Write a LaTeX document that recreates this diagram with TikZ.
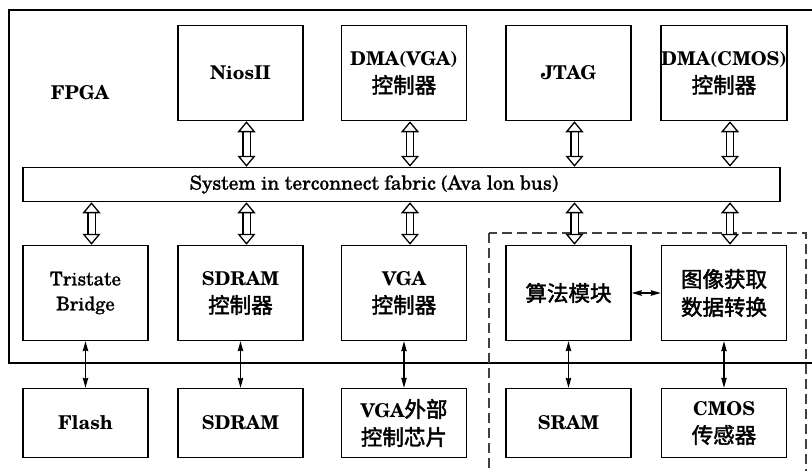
\documentclass[tikz,border=0pt]{standalone}
\usepackage{fontspec}
\setmainfont{texgyreschola}[Extension=.otf, UprightFont=*-regular, BoldFont=*-bold, ItalicFont=*-italic, BoldItalicFont=*-bolditalic]
\newfontfamily\medium{texgyreschola}[Extension=.otf, UprightFont=*-regular, FakeBold=0.8]
\newfontfamily\cjk{Noto Sans CJK SC}[FakeBold=2]
\usetikzlibrary{arrows.meta}
\usetikzlibrary{positioning}

\newcommand{\zh}[1]{{\cjk\mdseries\fontsize{21.5}{28}\selectfont #1}}

\tikzstyle{block} = [rectangle, text centered, align=center, draw=black, line width=1.5pt, minimum width=125pt, minimum height=95pt, inner sep=0pt, font=\fontsize{19}{28}\selectfont\bfseries]
\tikzstyle{chip} = [block, minimum height=69pt]
\tikzstyle{bridge} = [block, font=\fontsize{19}{25}\selectfont\medium]
\tikzstyle{busbar} = [rectangle, draw=black, line width=1.5pt, minimum width=757pt, minimum height=34pt, inner sep=0pt]
\tikzstyle{bus_link} = [double, double distance=6pt, line width=1.3pt, <->, >={Triangle[length=11pt, width=18pt, line width=1.3pt, fill=white]}]
\tikzstyle{link} = [line width=1.3pt, <->, >={Stealth[length=10pt, width=5.5pt, inset=1pt]}]
\tikzstyle{group} = [line width=1.2pt, black!75, dash pattern=on 10pt off 5pt]

\begin{document}
\begin{tikzpicture}[x=1pt, y=-1pt]

    \clip (0,0) rectangle (812,471);

    % FPGA boundary, runs off the right edge
    \draw [line width=1.5pt] (9,10) rectangle (830,363);
    \node (fpga) at (80,93) [font=\fontsize{19}{22}\selectfont\bfseries] {FPGA};

    % custom logic area
    \draw [group] (489,233) rectangle (806,490);

    \node (niosii) at (240.5,73) [block] {NiosII};
    \node (dmavga) at (404,73) [block] {DMA(VGA)\\\zh{控制器}};
    \node (jtag) at (568.5,73) [block] {JTAG};
    \node (dmacmos) at (724,73) [block] {DMA(CMOS)\\\zh{控制器}};

    \node (bus) at (401.5,184.5) [busbar] {};
    \node (bustext) at (374,184.5) [font=\fontsize{19.5}{22}\selectfont\medium] {System in terconnect fabric (Ava lon bus)};

    \node (tristate) at (85.5,293) [bridge] {Tristate\\Bridge};
    \node (sdramctrl) at (240.5,293) [block] {SDRAM\\\zh{控制器}};
    \node (vgactrl) at (404,293) [block] {VGA\\\zh{控制器}};
    \node (algo) at (568.5,293) [block] {\zh{算法模块}};
    \node (capture) at (724,293) [block] {\zh{图像获取}\\\zh{数据转换}};

    \node (flash) at (85.5,423) [chip] {Flash};
    \node (sdram) at (240.5,423) [chip] {SDRAM};
    \node (vgachip) at (404,423) [chip] {VGA\zh{外部}\\\zh{控制芯片}};
    \node (sram) at (568.5,423) [chip] {SRAM};
    \node (cmos) at (724,423) [chip] {CMOS\\\zh{传感器}};

    \draw [bus_link] ([xshift=6pt]niosii.south) -- ([xshift=6pt]bus.north -| niosii.south);
    \draw [bus_link] ([xshift=6pt]dmavga.south) -- ([xshift=6pt]bus.north -| dmavga.south);
    \draw [bus_link] ([xshift=6pt]jtag.south) -- ([xshift=6pt]bus.north -| jtag.south);
    \draw [bus_link] ([xshift=6pt]dmacmos.south) -- ([xshift=6pt]bus.north -| dmacmos.south);

    \draw [bus_link] ([xshift=6pt]bus.south -| tristate.north) -- ([xshift=6pt]tristate.north);
    \draw [bus_link] ([xshift=6pt]bus.south -| sdramctrl.north) -- ([xshift=6pt]sdramctrl.north);
    \draw [bus_link] ([xshift=6pt]bus.south -| vgactrl.north) -- ([xshift=6pt]vgactrl.north);
    \draw [bus_link] ([xshift=6pt]bus.south -| algo.north) -- ([xshift=6pt]algo.north);
    \draw [bus_link] ([xshift=6pt]bus.south -| capture.north) -- ([xshift=6pt]capture.north);

    \draw [link] (tristate) -- (flash);
    \draw [link] (sdramctrl) -- (sdram);
    \draw [link] (vgactrl) -- (vgachip);
    \draw [link] (algo) -- (sram);
    \draw [link] (capture) -- (cmos);
    \draw [link] (algo) -- (capture);

\end{tikzpicture}
\end{document}
